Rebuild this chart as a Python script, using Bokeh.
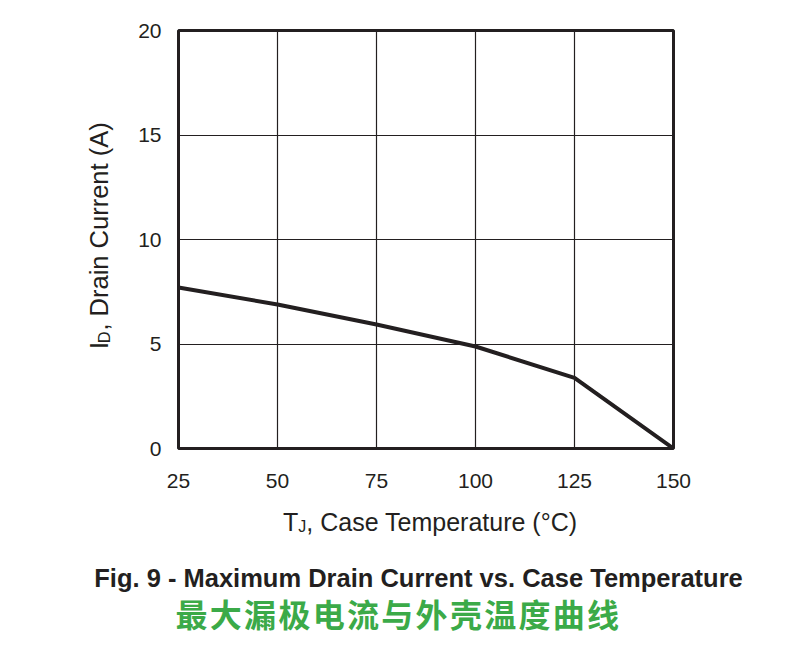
import math
from bokeh.plotting import figure
from bokeh.layouts import column, row
from bokeh.models import Range1d, FixedTicker, Label
from bokeh.embed import file_html
from bokeh.resources import INLINE

# ---- data ----
temps = [25, 50, 75, 100, 125, 150]
currents = [7.70, 6.89, 5.93, 4.88, 3.38, 0.0]
x_ticks = [25, 50, 75, 100, 125, 150]
y_ticks = [0, 5, 10, 15, 20]
title_en = "Fig. 9 - Maximum Drain Current vs. Case Temperature"
title_cn = "最大漏极电流与外壳温度曲线"
x_label_main = "T"
x_label_sub = "J"
x_label_rest = ", Case Temperature (°C)"
y_label_main = "I"
y_label_sub = "D"
y_label_rest = ", Drain Current (A)"

INK = "#231F20"
GREEN = "#3BAA48"
FONT = "Liberation Sans"

LEFT_W = 130     # width of the y-label strip
TOP_H = 500      # height of the chart row
W, H = 802, 654

# ---- main chart ----
p = figure(width=W - LEFT_W, height=TOP_H, output_backend="svg", toolbar_location=None,
           x_range=Range1d(25, 150), y_range=Range1d(0, 20),
           min_border_left=178 - LEFT_W, min_border_right=129,
           min_border_top=30, min_border_bottom=TOP_H - 448)
p.background_fill_color = "white"
p.border_fill_color = "white"
p.outline_line_color = INK
p.outline_line_width = 3

p.xaxis.ticker = FixedTicker(ticks=x_ticks)
p.yaxis.ticker = FixedTicker(ticks=y_ticks)
for ax in (p.xaxis[0], p.yaxis[0]):
    ax.axis_line_color = None
    ax.major_tick_line_color = None
    ax.minor_tick_line_color = None
    ax.major_tick_out = 0
    ax.major_tick_in = 0
    ax.minor_tick_out = 0
    ax.minor_tick_in = 0
    ax.major_label_text_font = FONT
    ax.major_label_text_font_size = "21px"
    ax.major_label_text_color = INK
p.xaxis.major_label_standoff = 25
p.yaxis.major_label_standoff = 17

p.xgrid.ticker = FixedTicker(ticks=x_ticks)
p.ygrid.ticker = FixedTicker(ticks=y_ticks)
p.grid.grid_line_color = INK
p.grid.grid_line_width = 1.2

p.line(temps, currents, line_color=INK, line_width=4, line_join="round")


def blank(width, height):
    f = figure(width=width, height=height, output_backend="svg", toolbar_location=None,
               x_range=Range1d(0, width), y_range=Range1d(height, 0),
               x_axis_type=None, y_axis_type=None,
               min_border=0, min_border_left=0, min_border_right=0,
               min_border_top=0, min_border_bottom=0)
    f.grid.visible = False
    f.outline_line_color = None
    f.background_fill_color = "white"
    f.border_fill_color = "white"
    return f


def lab(f, text, x, y, size, angle=0.0, bold=False, color=INK, align="left",
        baseline="alphabetic", font=FONT):
    f.add_layout(Label(x=x, y=y, text=text,
                       text_font=font, text_font_size=size, text_color=color,
                       text_font_style="bold" if bold else "normal",
                       text_align=align, text_baseline=baseline, angle=angle))


# ---- y-axis label strip (coords = page pixels) ----
left = blank(LEFT_W, TOP_H)
lab(left, y_label_main, 98, 381, "25.5px", angle=math.pi / 2)
lab(left, y_label_sub, 103, 374, "16.5px", angle=math.pi / 2)
lab(left, y_label_rest, 98, 359, "25.5px", angle=math.pi / 2)

# ---- bottom strip: x-axis label and captions (y = page y - TOP_H) ----
bottom = blank(W, H - TOP_H)
lab(bottom, x_label_main, 282.5, 521 - TOP_H, "25px")
lab(bottom, x_label_sub, 297.8, 525.5 - TOP_H, "16px")
lab(bottom, x_label_rest, 305.8, 521 - TOP_H, "25px")
lab(bottom, title_en, 418, 577 - TOP_H, "25.5px", bold=True, align="center")
for i, ch in enumerate(title_cn):
    lab(bottom, ch, 191 + i * 34.3, 612 - TOP_H, "32px", bold=True, color=GREEN,
        align="center", baseline="middle", font="Noto Sans CJK SC")

layout = column(row(left, p, spacing=0), bottom, spacing=0)
open("out.html", "w").write(file_html(layout, INLINE))
